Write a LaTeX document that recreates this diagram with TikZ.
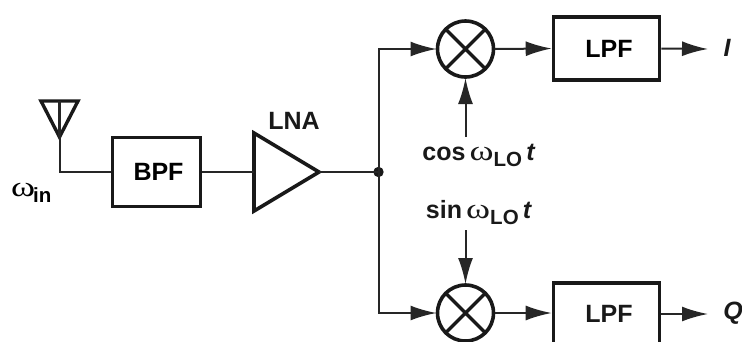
\documentclass[tikz,border=0pt]{standalone}
\usepackage{fontspec}
\setmainfont{Liberation Sans}
\newfontfamily\omegafont{Liberation Serif}
\usetikzlibrary{arrows.meta,shapes.geometric,calc}
\tikzset{
  x=1pt,y=-1pt,
  wire/.style={line width=2pt,draw=black!85},
  arr/.style={wire,-{Latex[length=26pt,width=15pt,sharp]}},
  blockbox/.style={draw=black!90,line width=3.6pt,rectangle,inner sep=0pt,font=\fontsize{25}{25}\selectfont\bfseries},
  mixer/.style={draw=black!90,line width=3.6pt,circle,inner sep=0pt,minimum size=56pt,outer sep=1pt,
    path picture={\draw[line width=3.2pt,draw=black!90]
      (path picture bounding box.south west)--(path picture bounding box.north east)
      (path picture bounding box.north west)--(path picture bounding box.south east);}},
  lbl/.style={inner sep=0pt,font=\fontsize{25}{25}\selectfont\bfseries,text=black!90},
}
\newcommand{\om}{{\omegafont\mdseries\fontsize{27}{27}\selectfont\scalebox{1.35}[1.05]{ω}}}
\newcommand{\subt}[1]{\raisebox{-6.5pt}{\fontsize{20.5}{20.5}\selectfont\bfseries #1}}
\begin{document}
\begin{tikzpicture}
\useasboundingbox (0,0) rectangle (742,341);
\clip (0,0) rectangle (742,341);
% blocks
\node[blockbox,minimum width=88pt,minimum height=69pt] (bpf) at (156.5,172) {\hspace*{4pt}BPF};
\node[draw=black!90,line width=3.6pt,isosceles triangle,isosceles triangle stretches,
  minimum width=78pt,minimum height=65pt,inner sep=0pt,outer sep=0pt,anchor=lower side] (lna) at (254,172) {};
\node[lbl,anchor=center] (lnat) at (294,121) {LNA};
\node[blockbox,minimum width=106pt,minimum height=63pt] (lpf1) at (606.5,48.5) {\hspace*{5pt}LPF};
\node[blockbox,minimum width=106pt,minimum height=63pt,anchor=north] (lpf2) at (606.5,281) {};
\node[lbl] (lpf2t) at (609,314) {LPF};
\node[mixer] (m1) at (465.5,49) {};
\node[mixer] (m2) at (465.5,313) {};
\fill[black!90] (378.5,172) circle (5.2pt);
\coordinate (dot) at (378.5,172);
% antenna
\coordinate (a1) at (41,101); \coordinate (a2) at (78,101); \coordinate (a3) at (59.5,137);
\coordinate (a4) at (59.5,101); \coordinate (a5) at (59.5,172);
\draw[line width=3.4pt,draw=black!90,line join=miter] (a1) -- (a2) -- (a3) -- cycle;
\draw[wire] (a4) -- (a5) -- (bpf.west);
\draw[wire,line width=3.2pt] (a4) -- (a3);
\node[inner sep=0pt,anchor=base west] (win) at (11,196) {\om\hspace{-2pt}\subt{in}};
% wires
\draw[wire] (bpf.east) -- (lna.lower side);
\draw[wire] (lna.apex) -- (dot);
\draw[arr] (dot) |- (m1.west);
\draw[arr] (dot) |- (m2.west);
\draw[arr] (m1.east) -- (lpf1.west);
\draw[arr] (m2.east) -- (lpf2.west |- m2);
\coordinate (i1) at (708,49); \coordinate (q1) at (708,314);
\draw[arr] (lpf1.east) -- (i1);
\draw[arr] (lpf2.east |- q1) -- (q1);
\node[lbl,font=\fontsize{25}{25}\selectfont\bfseries\itshape] (I) at (727,48) {I};
\node[lbl,font=\fontsize{25}{25}\selectfont\bfseries\itshape] (Q) at (733,313) {Q};
% LO
\node[lbl,anchor=base] (cos) at (479,160) {cos\,\om\subt{LO}\,\textit{t}};
\node[lbl,anchor=base] (sin) at (479,218) {sin\,\om\subt{LO}\,\textit{t}};
\draw[arr] (m1 |- 0,137) -- (m1.south);
\draw[arr] (m2 |- 0,230) -- (m2.north);
\end{tikzpicture}
\end{document}
